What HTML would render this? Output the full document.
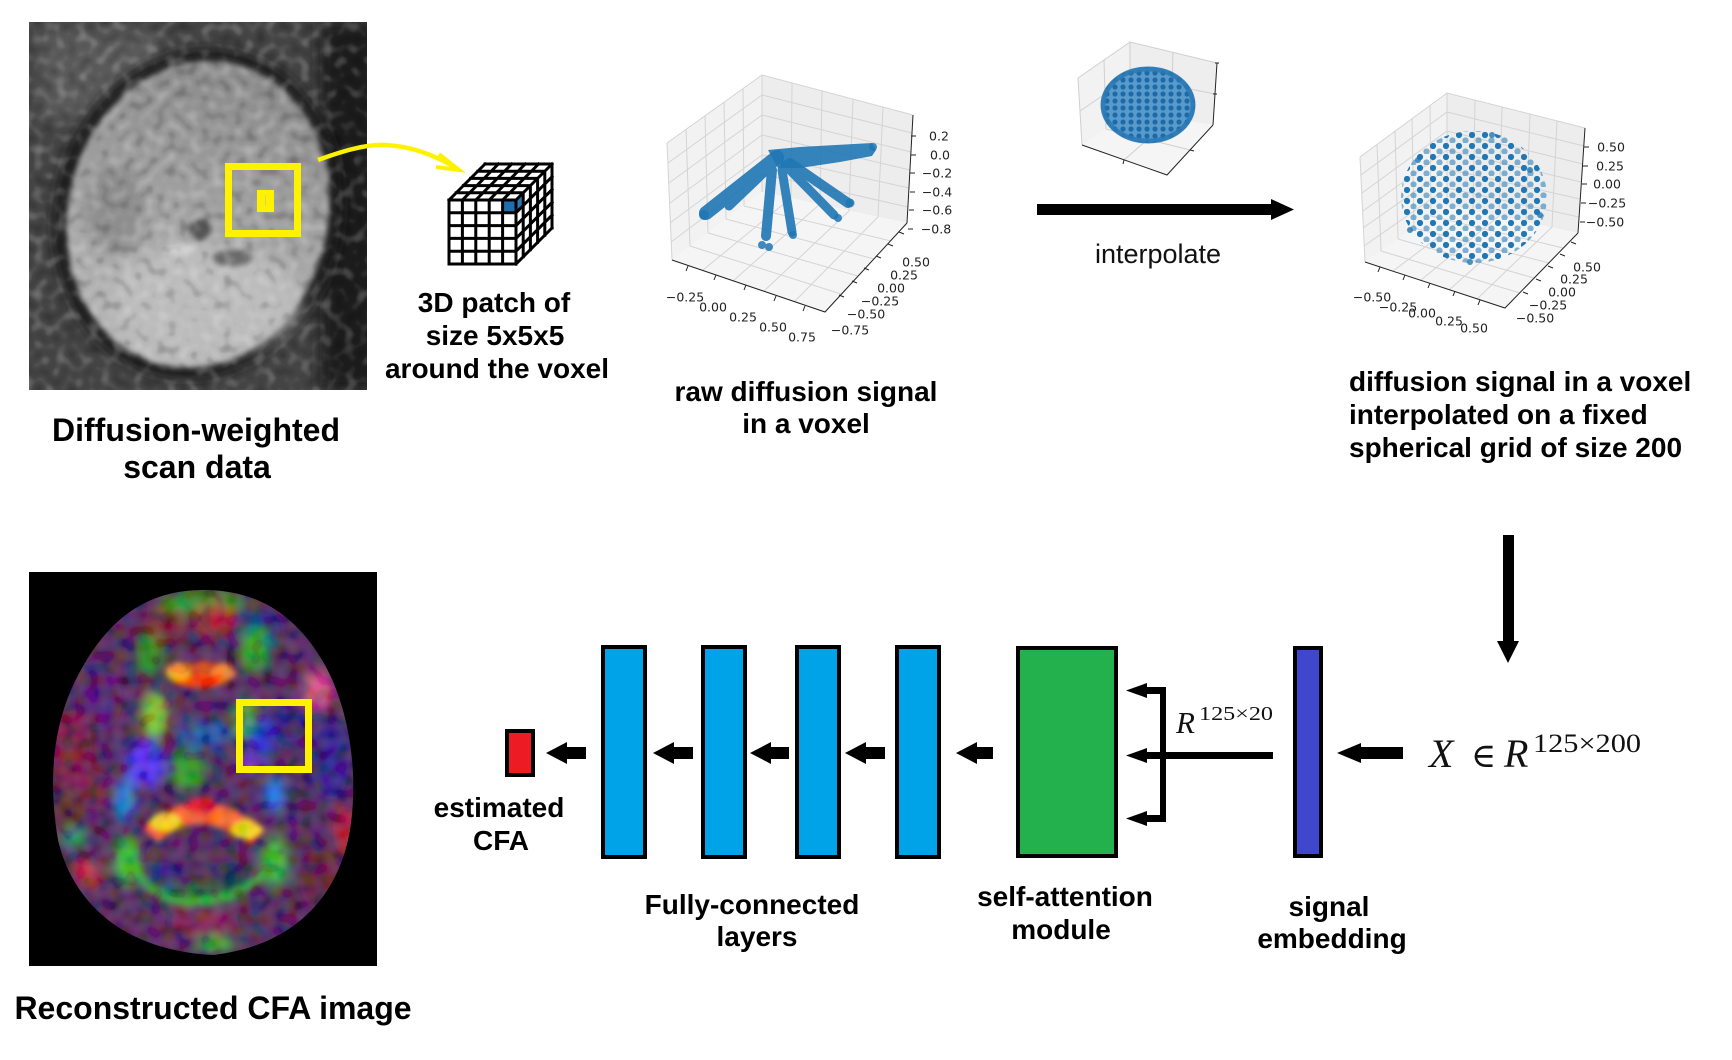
<!DOCTYPE html>
<html><head><meta charset="utf-8"><style>
html,body{margin:0;padding:0;background:#fff;}
svg{display:block;}
.lb{font-family:"Liberation Sans",Arial,sans-serif;font-weight:bold;font-size:28px;fill:#000;text-anchor:middle;}
.tk{font-family:"DejaVu Sans","Liberation Sans",sans-serif;font-size:12.5px;fill:#222;text-anchor:middle;dominant-baseline:central;}
.mth{font-family:"Liberation Serif","DejaVu Serif",serif;fill:#111;}
</style></head><body>
<svg width="1732" height="1060" viewBox="0 0 1732 1060" xmlns="http://www.w3.org/2000/svg">
<defs>
<clipPath id="dwc"><rect x="29" y="22" width="338" height="368"/></clipPath>
<clipPath id="cfac"><rect x="29" y="572" width="348" height="394"/></clipPath>
<clipPath id="brainc"><path d="M203,590 C255,590 295,612 325,665 C352,715 358,780 350,830 C340,890 300,945 213,955 C120,950 72,900 58,840 C48,780 52,720 82,668 C112,614 152,590 203,590 Z"/></clipPath>
<clipPath id="bigsph"><ellipse cx="1474" cy="197" rx="73" ry="66"/></clipPath>
<clipPath id="smsph"><ellipse cx="1148" cy="105" rx="47" ry="38"/></clipPath>
<filter id="b6" x="-30%" y="-30%" width="160%" height="160%"><feGaussianBlur stdDeviation="6"/></filter>
<filter id="b3" x="-30%" y="-30%" width="160%" height="160%"><feGaussianBlur stdDeviation="3"/></filter>
<filter id="b8" x="-40%" y="-40%" width="180%" height="180%"><feGaussianBlur stdDeviation="8"/></filter>
<filter id="nw" x="0" y="0" width="100%" height="100%">
 <feTurbulence type="fractalNoise" baseFrequency="0.09" numOctaves="1" seed="7"/>
 <feColorMatrix type="matrix" values="0 0 0 0 1  0 0 0 0 1  0 0 0 0 1  2.2 0 0 0 -1.1"/>
</filter>
<filter id="nb" x="0" y="0" width="100%" height="100%">
 <feTurbulence type="fractalNoise" baseFrequency="0.09" numOctaves="1" seed="7"/>
 <feColorMatrix type="matrix" values="0 0 0 0 0  0 0 0 0 0  0 0 0 0 0  -2.2 0 0 0 1.0"/>
</filter>
<filter id="nc" x="0" y="0" width="100%" height="100%">
 <feTurbulence type="fractalNoise" baseFrequency="0.08" numOctaves="1" seed="3"/>
 <feColorMatrix type="matrix" values="2.5 0 0 0 -0.9  0 2.5 0 0 -0.9  0 0 2.5 0 -0.9  0 0 0 0 0.18"/>
</filter>
<linearGradient id="dwg" x1="0" y1="0" x2="0" y2="1">
 <stop offset="0" stop-color="#8a8a8a"/><stop offset="0.5" stop-color="#a2a2a2"/><stop offset="1" stop-color="#b8b8b8"/>
</linearGradient>
<pattern id="d1" width="13" height="11" patternUnits="userSpaceOnUse">
 <circle cx="3" cy="3" r="3.1" fill="#1f77b4"/><circle cx="9.5" cy="8.5" r="3.1" fill="#1f77b4" opacity=".55"/>
</pattern>
<pattern id="d2" width="8" height="7" patternUnits="userSpaceOnUse">
 <circle cx="3" cy="3" r="2.6" fill="#1c6ba8"/>
</pattern>
</defs>

<!-- ============ DW image ============ -->
<g clip-path="url(#dwc)">
 <rect x="29" y="22" width="338" height="368" fill="#444"/>
 <rect x="40" y="30" width="120" height="90" fill="#5a5a5a" filter="url(#b8)"/>
 <rect x="320" y="22" width="60" height="368" fill="#1e1e1e" filter="url(#b8)"/>
 <ellipse cx="198" cy="214" rx="143" ry="166" transform="rotate(14 198 214)" fill="#1c1c1c" filter="url(#b6)"/>
 <ellipse cx="198" cy="214" rx="130" ry="155" transform="rotate(14 198 214)" fill="url(#dwg)" filter="url(#b3)"/>
 <ellipse cx="205" cy="300" rx="95" ry="55" fill="#bcbcbc" filter="url(#b8)"/>
 <ellipse cx="115" cy="210" rx="30" ry="45" fill="#858585" filter="url(#b6)" opacity=".7"/>
 <ellipse cx="200" cy="229" rx="11" ry="10" fill="#555" filter="url(#b3)"/>
 <ellipse cx="232" cy="258" rx="20" ry="8" fill="#6a6a6a" filter="url(#b3)"/>
 <ellipse cx="180" cy="250" rx="15" ry="6" fill="#d0d0d0" filter="url(#b3)"/>
 <rect x="29" y="22" width="338" height="368" filter="url(#nw)" opacity=".35"/>
 <rect x="29" y="22" width="338" height="368" filter="url(#nb)" opacity=".35"/>
</g>
<rect x="228.5" y="166.5" width="69" height="67" fill="none" stroke="#fff200" stroke-width="7"/>
<rect x="257" y="190" width="17" height="22" fill="#fff200"/>
<line x1="265.5" y1="195" x2="265.5" y2="206" stroke="#d8d070" stroke-width="1"/>
<path d="M318,160 C340,152 365,144 385,145 C410,146 435,155 458,169" fill="none" stroke="#fff200" stroke-width="4.5"/>
<path d="M439,154 L459,170 L436,167" fill="none" stroke="#fff200" stroke-width="4" stroke-linejoin="miter"/>

<!-- ============ Cube ============ -->
<rect x="449" y="200" width="67" height="64" fill="#fff"/>
<polygon points="449,200 516,200 552,164 485,164" fill="#fff"/>
<polygon points="516,200 552,164 552,228 516,264" fill="#fff"/>
<rect x="502.6" y="200" width="13.4" height="12.8" fill="#1f6fb0"/>
<polygon points="516,200 523.2,192.8 523.2,205.6 516,212.8" fill="#2a7ab8"/>
<path fill="none" stroke="#000" stroke-width="3" stroke-linecap="square" d="
M449,200 V264 M462.4,200 V264 M475.8,200 V264 M489.2,200 V264 M502.6,200 V264 M516,200 V264
M449,200 H516 M449,212.8 H516 M449,225.6 H516 M449,238.4 H516 M449,251.2 H516 M449,264 H516
M449,200 L485,164 M462.4,200 L498.4,164 M475.8,200 L511.8,164 M489.2,200 L525.2,164 M502.6,200 L538.6,164 M516,200 L552,164
M456.2,192.8 H523.2 M463.4,185.6 H530.4 M470.6,178.4 H537.6 M477.8,171.2 H544.8 M485,164 H552
M516,212.8 L552,176.8 M516,225.6 L552,189.6 M516,238.4 L552,202.4 M516,251.2 L552,215.2 M516,264 L552,228
M523.2,192.8 V256.8 M530.4,185.6 V249.6 M537.6,178.4 V242.4 M544.8,171.2 V235.2 M552,164 V228"/>

<!-- ============ Raw plot ============ -->
<polygon points="667,143 762,75 762,192 672,260" fill="#f2f2f2"/>
<polygon points="762,75 913,115 907,223 762,192" fill="#ededed"/>
<polygon points="672,260 762,192 907,223 825,312" fill="#f5f5f5"/>
<g stroke="#d4d4d4" stroke-width="1" fill="none">
<path d="M686,129 L690,246 M705,116 L708,233 M724,102 L726,219 M743,89 L744,206
M668,163 L762,95 M669,183 L762,115 M670,203 L762,135 M670,223 L762,155 M671,242 L762,174
M792,83 L791,198 M822,91 L820,204 M853,99 L849,211 M883,107 L878,217
M762,95 L912,133 M762,115 L911,152 M762,135 L910,170 M762,155 L909,188 M762,174 L908,207
M703,270 L791,198 M733,281 L820,204 M764,291 L849,211 M794,302 L878,217
M690,246 L841,294 M708,233 L858,276 M726,219 L874,259 M744,206 L891,241
M667,143 L762,75 L913,115 M762,75 L762,192 M667,143 L672,260"/>
</g>
<g stroke="#222" stroke-width="1" fill="none">
<path d="M672,260 L825,312 L907,223 M913,115 L907,223"/>
<path d="M911,136 h5 M911,155 h5 M910,173 h5 M910,192 h5 M909,210 h5 M908,229 h5"/>
<path d="M688,266 l-2,5 M716,275 l-2,5 M746,285 l-2,5 M776,296 l-2,5 M805,306 l-2,5"/>
<path d="M899,232 l5,2 M888,244 l5,2 M876,256 l5,2 M864,268 l5,2 M852,281 l5,2 M839,295 l5,2"/>
</g>
<g fill="#1f77b4" opacity=".9">
<polygon points="768,150 800,147 872,143 876,150 872,156 840,162 800,168 778,168"/>
</g>
<g fill="none" stroke="#1f77b4" stroke-linecap="round" opacity=".9">
<path d="M777,157 L706,213" stroke-width="14"/>
<path d="M775,162 L729,206" stroke-width="9"/>
<path d="M772,170 L766,236" stroke-width="10"/>
<path d="M782,170 L792,232" stroke-width="9"/>
<path d="M785,165 L834,215" stroke-width="9"/>
<path d="M790,163 L848,203" stroke-width="10"/>
</g>
<g fill="#1f77b4" opacity=".85">
<circle cx="762" cy="245" r="4"/><circle cx="769" cy="247" r="4"/><circle cx="793" cy="235" r="4"/>
<circle cx="838" cy="218" r="4"/><circle cx="873" cy="147" r="4"/><circle cx="704" cy="215" r="5"/>
<circle cx="850" cy="203" r="4.5"/>
</g>
<g class="tk">
<text x="939" y="136">0.2</text><text x="940" y="155">0.0</text><text x="937" y="173">−0.2</text>
<text x="937" y="192">−0.4</text><text x="937" y="210">−0.6</text><text x="936" y="229">−0.8</text>
<text x="916" y="262">0.50</text><text x="904" y="275">0.25</text><text x="891" y="288">0.00</text>
<text x="880" y="301">−0.25</text><text x="866" y="314">−0.50</text><text x="850" y="330">−0.75</text>
<text x="685" y="297">−0.25</text><text x="713" y="307">0.00</text><text x="743" y="317">0.25</text>
<text x="773" y="327">0.50</text><text x="802" y="337">0.75</text>
</g>

<!-- ============ small sphere plot ============ -->
<polygon points="1078,78 1130,42 1130,113 1082,145" fill="#f2f2f2"/>
<polygon points="1130,42 1217,63 1213,125 1130,113" fill="#eeeeee"/>
<polygon points="1082,145 1130,113 1213,125 1167,175" fill="#f5f5f5"/>
<g stroke="#cfcfcf" stroke-width="1" fill="none">
<path d="M1078,78 L1130,42 L1217,63 M1078,78 L1082,145 M1104,60 L1106,129 M1173,52 L1171,119 M1080,111 L1130,77 L1215,94 M1124,160 L1171,119 M1106,129 L1190,150 M1130,42 L1130,113"/>
</g>
<g stroke="#222" stroke-width="1" fill="none"><path d="M1082,145 L1167,175 L1213,125 M1217,63 L1213,125 M1213,94 h4 M1215,63 h4 M1124,160 l-1,4 M1190,150 l4,1"/></g>
<ellipse cx="1148" cy="105" rx="47" ry="38" fill="#5a9acb"/>
<g clip-path="url(#smsph)"><rect x="1098" y="64" width="100" height="82" fill="url(#d2)"/></g>
<ellipse cx="1148" cy="105" rx="45" ry="36" fill="none" stroke="#2a78b4" stroke-width="5" opacity=".85"/>

<!-- ============ big sphere plot ============ -->
<polygon points="1360,157 1447,93 1447,205 1365,262" fill="#f2f2f2"/>
<polygon points="1447,93 1585,128 1578,233 1447,205" fill="#ededed"/>
<polygon points="1365,262 1447,205 1578,233 1505,308" fill="#f5f5f5"/>
<g stroke="#d4d4d4" stroke-width="1" fill="none">
<path d="M1377,144 L1381,251 M1395,131 L1398,239 M1412,119 L1414,228 M1430,106 L1431,216
M1361,175 L1447,112 M1362,193 L1447,131 M1363,211 L1447,150 M1363,228 L1447,169 M1364,246 L1447,188
M1475,100 L1473,211 M1502,107 L1499,216 M1530,114 L1526,222 M1557,121 L1552,227
M1447,112 L1584,146 M1447,131 L1583,164 M1447,150 L1581,182 M1447,169 L1580,199 M1447,188 L1579,217
M1393,271 L1473,211 M1421,280 L1499,216 M1449,290 L1526,222 M1477,299 L1552,227
M1381,251 L1520,293 M1398,239 L1534,278 M1414,228 L1549,263 M1431,216 L1563,248
M1360,157 L1447,93 L1585,128 M1447,93 L1447,205 M1360,157 L1365,262"/>
</g>
<g stroke="#222" stroke-width="1" fill="none">
<path d="M1365,262 L1505,308 L1578,233 M1585,128 L1578,233"/>
<path d="M1584,147 h5 M1583,166 h5 M1582,184 h5 M1581,203 h5 M1580,222 h5"/>
<path d="M1571,242 l5,2 M1560,254 l5,2 M1548,266 l5,2 M1536,279 l5,2 M1523,292 l5,2"/>
<path d="M1380,267 l-2,5 M1405,275 l-2,5 M1430,283 l-2,5 M1455,291 l-2,5 M1480,300 l-2,5"/>
</g>
<g clip-path="url(#bigsph)"><rect x="1398" y="128" width="152" height="140" fill="url(#d1)"/></g>
<g fill="#1f77b4" opacity=".8">
<circle cx="1418" cy="160" r="3"/><circle cx="1530" cy="170" r="3"/><circle cx="1540" cy="215" r="3"/><circle cx="1410" cy="230" r="3"/><circle cx="1470" cy="262" r="3"/><circle cx="1492" cy="135" r="3"/>
</g>
<g class="tk">
<text x="1611" y="147">0.50</text><text x="1610" y="166">0.25</text><text x="1607" y="184">0.00</text>
<text x="1607" y="203">−0.25</text><text x="1605" y="222">−0.50</text>
<text x="1587" y="267">0.50</text><text x="1574" y="279">0.25</text><text x="1562" y="292">0.00</text>
<text x="1548" y="305">−0.25</text><text x="1535" y="318">−0.50</text>
<text x="1372" y="297">−0.50</text><text x="1398" y="307">−0.25</text><text x="1422" y="313">0.00</text>
<text x="1449" y="321">0.25</text><text x="1474" y="328">0.50</text>
</g>

<!-- big arrows -->
<polygon points="1037,204 1271,204 1271,199 1294,209.5 1271,220 1271,215 1037,215" fill="#000"/>
<polygon points="1503,535 1514,535 1514,641 1519,641 1508,663 1497,641 1503,641" fill="#000"/>

<!-- top labels -->
<text class="lb" x="196" y="441" style="font-size:32px">Diffusion-weighted</text>
<text class="lb" x="197" y="478" style="font-size:32px">scan data</text>
<text class="lb" x="494" y="312">3D patch of</text>
<text class="lb" x="495" y="345">size 5x5x5</text>
<text class="lb" x="497" y="378">around the voxel</text>
<text class="lb" x="806" y="401">raw diffusion signal</text>
<text class="lb" x="806" y="433">in a voxel</text>
<text x="1158" y="263" style="font-family:'Liberation Sans',Arial,sans-serif;font-size:27px;text-anchor:middle;fill:#111">interpolate</text>
<text class="lb" x="1349" y="391" style="text-anchor:start">diffusion signal in a voxel</text>
<text class="lb" x="1349" y="424" style="text-anchor:start">interpolated on a fixed</text>
<text class="lb" x="1349" y="457" style="text-anchor:start">spherical grid of size 200</text>

<!-- ============ CFA image ============ -->
<g clip-path="url(#cfac)">
<rect x="29" y="572" width="348" height="394" fill="#000"/>
<g clip-path="url(#brainc)">
 <rect x="29" y="572" width="348" height="394" fill="#481a56"/>
 <g filter="url(#b6)">
  <ellipse cx="203" cy="603" rx="45" ry="13" fill="#2a8a1a"/>
  <ellipse cx="165" cy="625" rx="22" ry="16" fill="#7a1020"/>
  <ellipse cx="215" cy="620" rx="20" ry="16" fill="#b01020"/>
  <ellipse cx="258" cy="630" rx="22" ry="18" fill="#101a7a"/>
  <ellipse cx="150" cy="655" rx="14" ry="22" fill="#1a8a10"/>
  <ellipse cx="255" cy="650" rx="14" ry="22" fill="#20b010"/>
  <ellipse cx="100" cy="700" rx="22" ry="30" fill="#501070"/>
  <ellipse cx="290" cy="720" rx="18" ry="22" fill="#2a0a7a"/>
  <ellipse cx="155" cy="715" rx="14" ry="24" fill="#80d020"/>
  <ellipse cx="245" cy="720" rx="12" ry="20" fill="#40b020"/>
  <ellipse cx="205" cy="735" rx="25" ry="14" fill="#1050b0"/>
  <ellipse cx="145" cy="765" rx="20" ry="24" fill="#4a20ff"/>
  <ellipse cx="125" cy="800" rx="10" ry="22" fill="#1080e0"/>
  <ellipse cx="188" cy="770" rx="18" ry="20" fill="#1a9a1a"/>
  <ellipse cx="262" cy="740" rx="14" ry="22" fill="#1020d0"/>
  <ellipse cx="250" cy="765" rx="12" ry="8" fill="#8020ff"/>
  <ellipse cx="275" cy="795" rx="10" ry="18" fill="#1080ff"/>
  <ellipse cx="318" cy="690" rx="16" ry="20" fill="#e04a80"/>
  <ellipse cx="330" cy="760" rx="20" ry="40" fill="#20108a"/>
  <ellipse cx="345" cy="830" rx="12" ry="25" fill="#b01030"/>
  <ellipse cx="70" cy="750" rx="22" ry="40" fill="#7a0a3a"/>
  <ellipse cx="65" cy="815" rx="15" ry="25" fill="#501a20"/>
  <ellipse cx="75" cy="838" rx="12" ry="10" fill="#10a070"/>
  <ellipse cx="88" cy="872" rx="14" ry="15" fill="#c02030"/>
  <ellipse cx="95" cy="790" rx="15" ry="20" fill="#701040"/>
  <ellipse cx="128" cy="862" rx="14" ry="26" fill="#30c030"/>
  <ellipse cx="275" cy="862" rx="14" ry="26" fill="#30c030"/>
  <ellipse cx="200" cy="895" rx="45" ry="10" fill="#1f6a20"/>
  <ellipse cx="165" cy="876" rx="14" ry="14" fill="#1a1080"/>
  <ellipse cx="232" cy="880" rx="14" ry="14" fill="#102040"/>
  <ellipse cx="200" cy="922" rx="40" ry="14" fill="#7a1050"/>
  <ellipse cx="215" cy="945" rx="20" ry="10" fill="#30a030"/>
  <ellipse cx="320" cy="880" rx="20" ry="30" fill="#5a1030"/>
 </g>
 <g filter="url(#b3)">
  <ellipse cx="200" cy="675" rx="32" ry="13" fill="#ff3000"/>
  <ellipse cx="178" cy="672" rx="12" ry="9" fill="#ffb010"/>
  <ellipse cx="224" cy="672" rx="12" ry="9" fill="#ff8020"/>
  <path d="M150,835 Q200,790 258,838" fill="none" stroke="#ff5a20" stroke-width="22"/>
  <ellipse cx="165" cy="822" rx="15" ry="9" fill="#ffe010"/>
  <ellipse cx="246" cy="830" rx="15" ry="9" fill="#ffe010"/>
  <ellipse cx="203" cy="806" rx="14" ry="8" fill="#ff0020"/>
  <path d="M120,850 Q150,905 200,900 Q250,900 280,850" fill="none" stroke="#2ab82a" stroke-width="10" opacity=".8"/>
 </g>
 <rect x="29" y="572" width="348" height="394" filter="url(#nc)"/>
</g>
</g>
<rect x="239.5" y="702.5" width="69" height="67" fill="none" stroke="#fff200" stroke-width="7"/>
<text class="lb" x="213" y="1019" style="font-size:32px">Reconstructed CFA image</text>

<!-- ============ network ============ -->
<rect x="507" y="731" width="26" height="44" fill="#ed1c24" stroke="#000" stroke-width="4"/>
<g fill="#000">
<polygon points="546,753 567,742 567,747 586,747 586,759 567,759 567,764"/>
<polygon points="653,753 674,742 674,747 693,747 693,759 674,759 674,764"/>
<polygon points="750,753 771,742 771,747 789,747 789,759 771,759 771,764"/>
<polygon points="845,753 866,742 866,747 885,747 885,759 866,759 866,764"/>
<polygon points="956,753 977,742 977,747 993,747 993,759 977,759 977,764"/>
<polygon points="1337,753 1361,743 1361,747 1403,747 1403,759 1361,759 1361,763"/>
</g>
<g fill="#00a2e8" stroke="#000" stroke-width="4">
<rect x="603" y="647" width="42" height="210"/>
<rect x="703" y="647" width="42" height="210"/>
<rect x="797" y="647" width="42" height="210"/>
<rect x="897" y="647" width="42" height="210"/>
</g>
<rect x="1018" y="648" width="98" height="208" fill="#22b14c" stroke="#000" stroke-width="4"/>
<rect x="1295" y="648" width="26" height="208" fill="#3f48cc" stroke="#000" stroke-width="4"/>

<!-- bracket -->
<g fill="#000">
<rect x="1160" y="687" width="6" height="135"/>
<rect x="1142" y="687" width="24" height="7"/>
<rect x="1142" y="815" width="24" height="7"/>
<rect x="1142" y="752" width="131" height="7"/>
<polygon points="1126,690.5 1147,683 1147,698"/>
<polygon points="1126,755.5 1147,748 1147,763"/>
<polygon points="1126,818.5 1147,811 1147,826"/>
</g>
<text class="mth" x="1176" y="733" style="font-size:31px;font-style:italic">R</text>
<text class="mth" x="1199" y="720" style="font-size:20px" textLength="74" lengthAdjust="spacingAndGlyphs">125×20</text>

<text class="mth" x="1429" y="767" style="font-size:40px;font-style:italic">X</text>
<text class="mth" x="1471" y="767" style="font-size:34px;font-family:'DejaVu Serif','Liberation Serif',serif">∈</text>
<text class="mth" x="1504" y="767" style="font-size:40px;font-style:italic">R</text>
<text class="mth" x="1533" y="752" style="font-size:26px" textLength="108" lengthAdjust="spacingAndGlyphs">125×200</text>

<!-- bottom labels -->
<text class="lb" x="499" y="817">estimated</text>
<text class="lb" x="501" y="850">CFA</text>
<text class="lb" x="752" y="914">Fully-connected</text>
<text class="lb" x="757" y="946">layers</text>
<text class="lb" x="1065" y="906">self-attention</text>
<text class="lb" x="1061" y="939">module</text>
<text class="lb" x="1329" y="916">signal</text>
<text class="lb" x="1332" y="948">embedding</text>
</svg>
</body></html>
